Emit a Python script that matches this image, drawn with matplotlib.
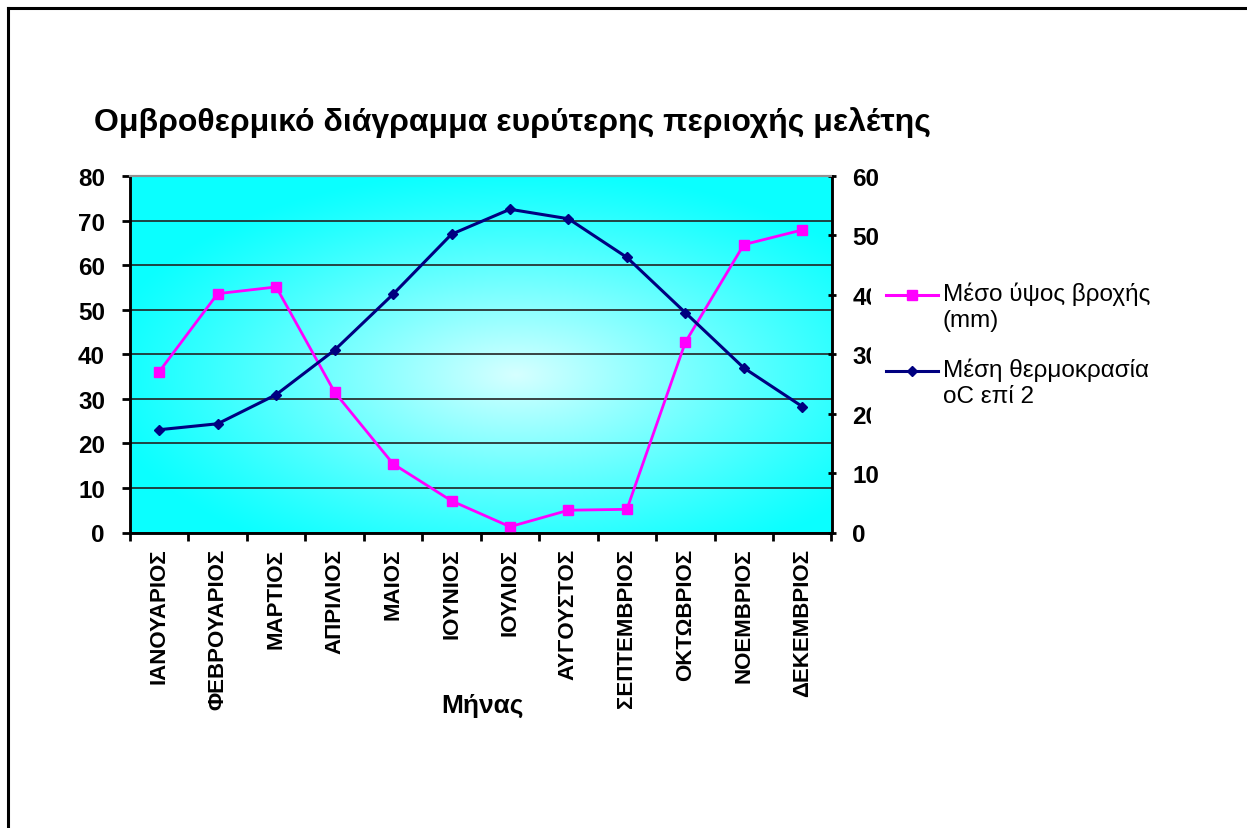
import numpy as np
import matplotlib
matplotlib.use("Agg")
import matplotlib.pyplot as plt
from matplotlib.lines import Line2D
from matplotlib.patches import Rectangle

plt.rcParams['font.family'] = ['Liberation Sans', 'DejaVu Sans']

months = ["ΙΑΝΟΥΑΡΙΟΣ", "ΦΕΒΡΟΥΑΡΙΟΣ", "ΜΑΡΤΙΟΣ", "ΑΠΡΙΛΙΟΣ", "ΜΑΙΟΣ", "ΙΟΥΝΙΟΣ",
          "ΙΟΥΛΙΟΣ", "ΑΥΓΟΥΣΤΟΣ", "ΣΕΠΤΕΜΒΡΙΟΣ", "ΟΚΤΩΒΡΙΟΣ", "ΝΟΕΜΒΡΙΟΣ", "ΔΕΚΕΜΒΡΙΟΣ"]
rain = [36.1, 53.6, 55.1, 31.5, 15.4, 7.1, 1.3, 5.0, 5.2, 42.7, 64.6, 67.9]
temp2 = [17.3, 18.3, 23.2, 30.7, 40.1, 50.2, 54.4, 52.8, 46.3, 37.0, 27.7, 21.2]
left_ticks = [0, 10, 20, 30, 40, 50, 60, 70, 80]
right_ticks = [0, 10, 20, 30, 40, 50, 60]
rain_label = 'Μέσο ύψος βροχής\n(mm)'
temp_label = 'Μέση θερμοκρασία\noC επί 2'

W, H = 1247, 829
fig = plt.figure(figsize=(W / 100, H / 100), dpi=100)


def fx(px):
    return px / W


def fy(py):
    return 1 - py / H


# plot area in pixels
x0, x1, y0, y1 = 130, 831.5, 177, 533.5
ax = fig.add_axes([fx(x0), fy(y1), (x1 - x0) / W, (y1 - y0) / H])

# radial cyan gradient background
gx, gy = np.meshgrid(np.linspace(0, 1, 400), np.linspace(0, 1, 300))
cx, cy = 0.55, 0.44
d = np.sqrt(((gx - cx) / 0.6) ** 2 + ((gy - cy) / 0.58) ** 2)
d = np.clip(d, 0, 1)
img = np.zeros((300, 400, 3))
img[..., 0] = 0.8 * (1 - d) ** 1.15 + 0.04
img[..., 1] = 1.0
img[..., 2] = 1.0
ax.imshow(img, extent=[0, 1, 0, 1], transform=ax.transAxes, origin='lower',
          aspect='auto', zorder=-5)

ax.plot(months, rain, color='#ff00ff', lw=2.0, marker='s', ms=7, zorder=3)
ax.set_xlim(-0.5, 11.5)
ax.set_ylim(0, 80)
ax.set_yticks(left_ticks)
ax.yaxis.grid(True, color='#222222', lw=1.2)
ax.set_axisbelow(True)

ax2 = ax.twinx()
ax2.plot(months, temp2, color='#000080', lw=2.2, marker='D', ms=5, zorder=3)
ax2.set_ylim(0, 60)
ax2.set_yticks(right_ticks)

# category ticks between months
ax.set_xticks(np.arange(-0.5, 12, 1), minor=False)
ax.set_xticklabels([])
ax.set_xticks(range(12), minor=True)
ax.set_xticklabels(months, minor=True, rotation=90, fontsize=16, fontweight='bold',
                   va='top')
ax.tick_params(axis='x', which='major', length=6, width=2, direction='out')
ax.tick_params(axis='x', which='minor', length=0, pad=11)
ax.tick_params(axis='y', length=6, width=2, direction='out', pad=12)
ax2.tick_params(axis='y', length=6, width=2, direction='inout', pad=12)
for lab in ax.get_yticklabels() + ax2.get_yticklabels():
    lab.set_fontsize(17.5)
    lab.set_fontweight('bold')

for a in (ax, ax2):
    a.spines['top'].set_color('#909090')
    a.spines['top'].set_linewidth(1.5)
    for s in ('left', 'bottom', 'right'):
        a.spines[s].set_linewidth(1.8)
        a.spines[s].set_color('black')

fig.text(fx(482), fy(706), 'Μήνας', ha='center', va='center', fontsize=19,
         fontweight='bold', family=['Liberation Sans Narrow', 'Liberation Sans'])

fig.text(fx(512), fy(123), 'Ομβροθερμικό διάγραμμα ευρύτερης περιοχής μελέτης',
         ha='center', va='center', fontsize=23, fontweight='bold')

# legend box (white, covers part of the right tick labels as in the original)
fig.add_artist(Rectangle((fx(871), fy(440)), fx(1235) - fx(871), fy(272) - fy(440),
                         transform=fig.transFigure, facecolor='white',
                         edgecolor='none', zorder=10))
for yy, col, mk, ms, lab in [(296, '#ff00ff', 's', 7, rain_label),
                             (372, '#000080', 'D', 5, temp_label)]:
    fig.add_artist(Line2D([fx(886), fx(938)], [fy(yy), fy(yy)], color=col, lw=2.2,
                          zorder=11))
    fig.add_artist(Line2D([fx(912)], [fy(yy)], color=col, marker=mk, ms=ms,
                          zorder=11))
    fig.text(fx(943), fy(yy - 13), lab, ha='left', va='top', fontsize=17.5,
             linespacing=1.22, zorder=12)

# outer frame (cut at right and bottom)
fig.add_artist(Line2D([fx(8), 1], [fy(9), fy(9)], color='black', lw=2.2))
fig.add_artist(Line2D([fx(8), fx(8)], [0, fy(9)], color='black', lw=2.2))

fig.savefig('out.png', dpi=100)
